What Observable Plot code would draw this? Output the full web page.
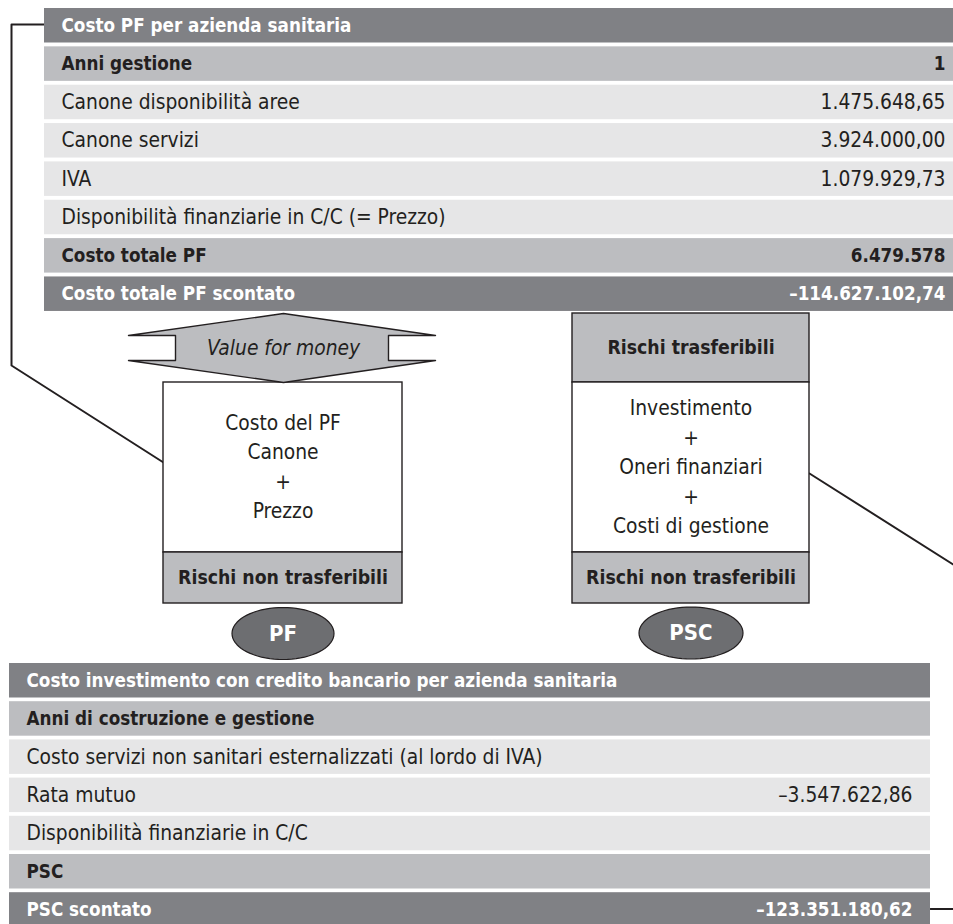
<!DOCTYPE html>
<html>
<head>
<meta charset="utf-8">
<script src="https://cdn.jsdelivr.net/npm/d3@7"></script>
<script src="https://cdn.jsdelivr.net/npm/@observablehq/plot@0.6"></script>
<style>
  html, body { margin: 0; padding: 0; background: #fff; }
  #chart svg { display: block; }
</style>
</head>
<body>
<div id="chart"></div>
<script>
// ---------- data ----------
const topKinds  = ["title", "sub", "item", "item", "item", "item", "sub", "title"];
const topLabels = [
  "Costo PF per azienda sanitaria",
  "Anni gestione",
  "Canone disponibilità aree",
  "Canone servizi",
  "IVA",
  "Disponibilità finanziarie in C/C (= Prezzo)",
  "Costo totale PF",
  "Costo totale PF scontato"
];
const topValues = ["", "1", "1.475.648,65", "3.924.000,00", "1.079.929,73", "", "6.479.578", "–114.627.102,74"];

const bottomKinds  = ["title", "sub", "item", "item", "item", "sub", "title"];
const bottomLabels = [
  "Costo investimento con credito bancario per azienda sanitaria",
  "Anni di costruzione e gestione",
  "Costo servizi non sanitari esternalizzati (al lordo di IVA)",
  "Rata mutuo",
  "Disponibilità finanziarie in C/C",
  "PSC",
  "PSC scontato"
];
const bottomValues = ["", "", "", "–3.547.622,86", "", "", "–123.351.180,62"];

const arrowLabel = "Value for money";
const pfBoxLines  = ["Costo del PF", "Canone", "+", "Prezzo"];
const pscBoxHeader = "Rischi trasferibili";
const pscBoxLines = ["Investimento", "+", "Oneri finanziari", "+", "Costi di gestione"];
const boxFooter = "Rischi non trasferibili";
const ovalLabels = ["PF", "PSC"];

// ---------- layout ----------
const W = 953, H = 924;
const FONT = "'DejaVu Sans Condensed', 'Liberation Sans', sans-serif";
const C = {dark: "#808185", mid: "#bcbdc0", light: "#e6e6e7", ink: "#231f20", oval: "#6d6e71"};
const fillOf = {title: C.dark, sub: C.mid, item: C.light};
const textOf = {title: "#ffffff", sub: C.ink, item: C.ink};

function tableRows(kinds, labels, values, L) {
  return labels.map((label, i) => ({
    kind: kinds[i], label, value: values[i],
    x1: L.x1, x2: L.x2,
    y1: L.y0 + i * L.pitch, y2: L.y0 + i * L.pitch + L.h,
    ym: L.y0 + i * L.pitch + L.h / 2,
    tx: L.x1 + L.padL, vx: L.x2 - L.padR
  }));
}
const topRows = tableRows(topKinds, topLabels, topValues, {x1: 44, x2: 963, y0: 8, pitch: 38.35, h: 34.5, padL: 17, padR: 18});
const bottomRows = tableRows(bottomKinds, bottomLabels, bottomValues, {x1: 9, x2: 930, y0: 663, pitch: 38.2, h: 34.5, padL: 17, padR: 18});
const allRows = topRows.concat(bottomRows);

// boxes
const pfBox  = {x1: 163, x2: 402, cx: 282.5};
const pscBox = {x1: 572, x2: 809, cx: 690.5};
const headTop = 313, bodyTop = 382, footTop = 552, boxBottom = 603;
const boxRects = [
  {x1: pfBox.x1,  x2: pfBox.x2,  y1: bodyTop, y2: footTop,   fill: "#ffffff"},
  {x1: pfBox.x1,  x2: pfBox.x2,  y1: footTop, y2: boxBottom, fill: C.mid},
  {x1: pscBox.x1, x2: pscBox.x2, y1: headTop, y2: bodyTop,   fill: C.mid},
  {x1: pscBox.x1, x2: pscBox.x2, y1: bodyTop, y2: footTop,   fill: "#ffffff"},
  {x1: pscBox.x1, x2: pscBox.x2, y1: footTop, y2: boxBottom, fill: C.mid}
];
const lineGap = 29.5, bodyMid = (bodyTop + footTop) / 2;
function stack(lines, cx) {
  return lines.map((t, i) => ({t, x: cx, y: bodyMid + (i - (lines.length - 1) / 2) * lineGap}));
}
const boxTexts = stack(pfBoxLines, pfBox.cx).concat(stack(pscBoxLines, pscBox.cx));
const boldTexts = [
  {t: pscBoxHeader, x: pscBox.cx, y: (headTop + bodyTop) / 2},
  {t: boxFooter, x: pfBox.cx,  y: (footTop + boxBottom) / 2},
  {t: boxFooter, x: pscBox.cx, y: (footTop + boxBottom) / 2}
];

// double arrow "Value for money"
const A = {cx: 283, l: 128, r: 435, il: 175, ir: 388, top: 313, nt: 335, nb: 360, bot: 382};
const arrowPts = [
  [A.l, A.nt], [A.cx, A.top], [A.r, A.nt], [A.ir, A.nt], [A.ir, A.nb], [A.r, A.nb],
  [A.cx, A.bot], [A.l, A.nb], [A.il, A.nb], [A.il, A.nt]
].map(([x, y]) => ({x, y}));

// ovals
const ovals = [{cx: pfBox.cx, cy: 633, rx: 51, ry: 26, label: ovalLabels[0]},
               {cx: pscBox.cx, cy: 632.5, rx: 52, ry: 26, label: ovalLabels[1]}];
const ovalPts = ovals.flatMap((o, k) => d3.range(72).map(i => {
  const t = i / 72 * 2 * Math.PI;
  return {k, x: o.cx + o.rx * Math.cos(t), y: o.cy + o.ry * Math.sin(t)};
}));

// connector lines
const connectors = [
  {g: 0, x: 44, y: 24}, {g: 0, x: 11, y: 24}, {g: 0, x: 11, y: 365}, {g: 0, x: pfBox.x1, y: 462},
  {g: 1, x: pscBox.x2, y: 473}, {g: 1, x: 953 + 14, y: 564 + 9},
  {g: 2, x: 930, y: 908.5}, {g: 2, x: 970, y: 908.5}
];

const FS = 20.8, FSB = 18.7, FSBOX = 19.3;
const chart = Plot.plot({
  width: W, height: H, margin: 0,
  x: {domain: [0, W], range: [0, W], axis: null},
  y: {domain: [0, H], range: [0, H], axis: null},
  style: {fontFamily: FONT, background: "#fff", overflow: "hidden"},
  marks: [
    // connectors
    Plot.line(connectors, {x: "x", y: "y", z: "g", stroke: C.ink, strokeWidth: 2}),
    // table rows
    Plot.rect(allRows, {x1: "x1", x2: "x2", y1: "y1", y2: "y2", fill: d => fillOf[d.kind]}),
    Plot.text(allRows, {filter: d => d.kind === "item", x: "tx", y: "ym", text: "label", textAnchor: "start",
      fontSize: FS, fill: C.ink}),
    Plot.text(allRows, {filter: d => d.kind === "item", x: "vx", y: "ym", text: "value", textAnchor: "end",
      fontSize: FS, fill: C.ink}),
    Plot.text(allRows, {filter: d => d.kind !== "item", x: "tx", y: "ym", text: "label", textAnchor: "start",
      fontSize: FSB, fontWeight: "bold", fill: d => textOf[d.kind]}),
    Plot.text(allRows, {filter: d => d.kind !== "item", x: "vx", y: "ym", text: "value", textAnchor: "end",
      fontSize: FSB, fontWeight: "bold", fill: d => textOf[d.kind]}),
    // boxes
    Plot.rect(boxRects, {x1: "x1", x2: "x2", y1: "y1", y2: "y2", fill: "fill", stroke: C.ink, strokeWidth: 1.4}),
    Plot.text(boxTexts, {x: "x", y: "y", text: "t", fontSize: FS, fill: C.ink}),
    Plot.text(boldTexts, {x: "x", y: "y", text: "t", fontSize: FSBOX, fontWeight: "bold", fill: C.ink}),
    // arrow
    Plot.line(arrowPts, {x: "x", y: "y", curve: "linear-closed", fill: C.mid, stroke: C.ink, strokeWidth: 1.4}),
    Plot.text([arrowLabel], {x: A.cx, y: (A.nt + A.nb) / 2, text: d => d, fontSize: FS, fontStyle: "italic", fill: C.ink}),
    // ovals
    Plot.line(ovalPts, {x: "x", y: "y", z: "k", curve: "linear-closed", fill: C.oval, stroke: C.ink, strokeWidth: 1.2}),
    Plot.text(ovals, {x: "cx", y: "cy", text: "label", fontSize: 22, fontWeight: "bold", fill: "#ffffff"})
  ]
});
document.getElementById("chart").appendChild(chart);
</script>
</body>
</html>
